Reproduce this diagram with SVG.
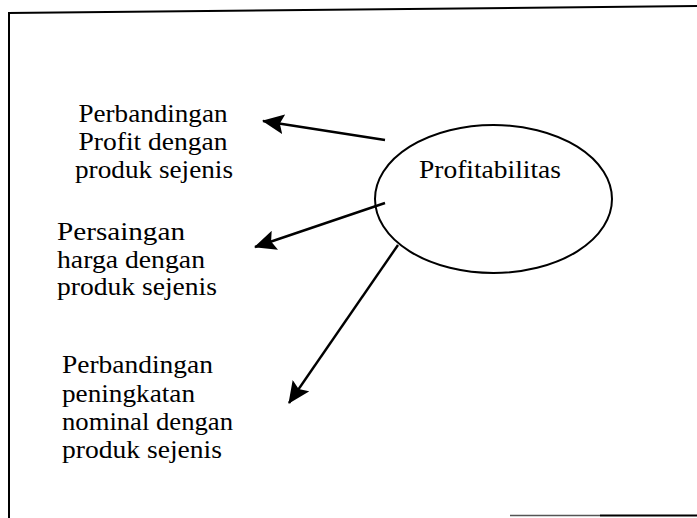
<svg xmlns="http://www.w3.org/2000/svg" width="697" height="518" viewBox="0 0 697 518">
  <style>
    .label { font-family: "Liberation Serif", "Times New Roman", serif; font-size: 26px; fill: #000; }
    .frame { stroke: #000; stroke-width: 2; fill: none; }
    .link { stroke: #000; stroke-width: 2.4; fill: none; marker-end: url(#head); }
  </style>
  <defs>
    <marker id="head" viewBox="0 0 22 20" refX="21" refY="10" markerWidth="22" markerHeight="20" markerUnits="userSpaceOnUse" orient="auto">
      <path d="M0,0 L22,10 L0,20 L4,10 Z" fill="#000"/>
    </marker>
  </defs>

  <rect width="697" height="518" fill="#fff"/>

  <!-- page frame: top and left edges, partial bottom edge -->
  <g id="frame">
    <line class="frame" x1="8" y1="13" x2="697" y2="6"/>
    <line class="frame" x1="9" y1="12" x2="9" y2="518"/>
    <line x1="510" y1="515.5" x2="600" y2="515.5" stroke="#555" stroke-width="1.5"/>
    <line x1="600" y1="515.5" x2="697" y2="515.5" stroke="#000" stroke-width="2"/>
  </g>

  <!-- central concept -->
  <g id="profitabilitas">
    <ellipse cx="493.5" cy="199" rx="118.5" ry="74" fill="none" stroke="#000" stroke-width="2"/>
    <text class="label" x="490" y="178" text-anchor="middle" textLength="142" lengthAdjust="spacingAndGlyphs">Profitabilitas</text>
  </g>

  <!-- indicators -->
  <g id="perbandingan-profit">
    <text class="label" x="153" y="122" text-anchor="middle" textLength="149" lengthAdjust="spacingAndGlyphs">Perbandingan</text>
    <text class="label" x="153" y="150" text-anchor="middle" textLength="149" lengthAdjust="spacingAndGlyphs">Profit dengan</text>
    <text class="label" x="154" y="178" text-anchor="middle" textLength="158" lengthAdjust="spacingAndGlyphs">produk sejenis</text>
  </g>

  <g id="persaingan-harga">
    <text class="label" x="57" y="240" textLength="128" lengthAdjust="spacingAndGlyphs">Persaingan</text>
    <text class="label" x="57" y="268" textLength="148" lengthAdjust="spacingAndGlyphs">harga dengan</text>
    <text class="label" x="57" y="295" textLength="160" lengthAdjust="spacingAndGlyphs">produk sejenis</text>
  </g>

  <g id="perbandingan-nominal">
    <text class="label" x="62" y="373" textLength="151" lengthAdjust="spacingAndGlyphs">Perbandingan</text>
    <text class="label" x="62" y="402" textLength="133" lengthAdjust="spacingAndGlyphs">peningkatan</text>
    <text class="label" x="62" y="430" textLength="171" lengthAdjust="spacingAndGlyphs">nominal dengan</text>
    <text class="label" x="62" y="458" textLength="160" lengthAdjust="spacingAndGlyphs">produk sejenis</text>
  </g>

  <!-- connectors from the central concept -->
  <g id="connectors">
    <line class="link" x1="385" y1="140" x2="263" y2="121"/>
    <line class="link" x1="385" y1="203" x2="255" y2="247"/>
    <line class="link" x1="398" y1="245" x2="289" y2="403"/>
  </g>
</svg>
